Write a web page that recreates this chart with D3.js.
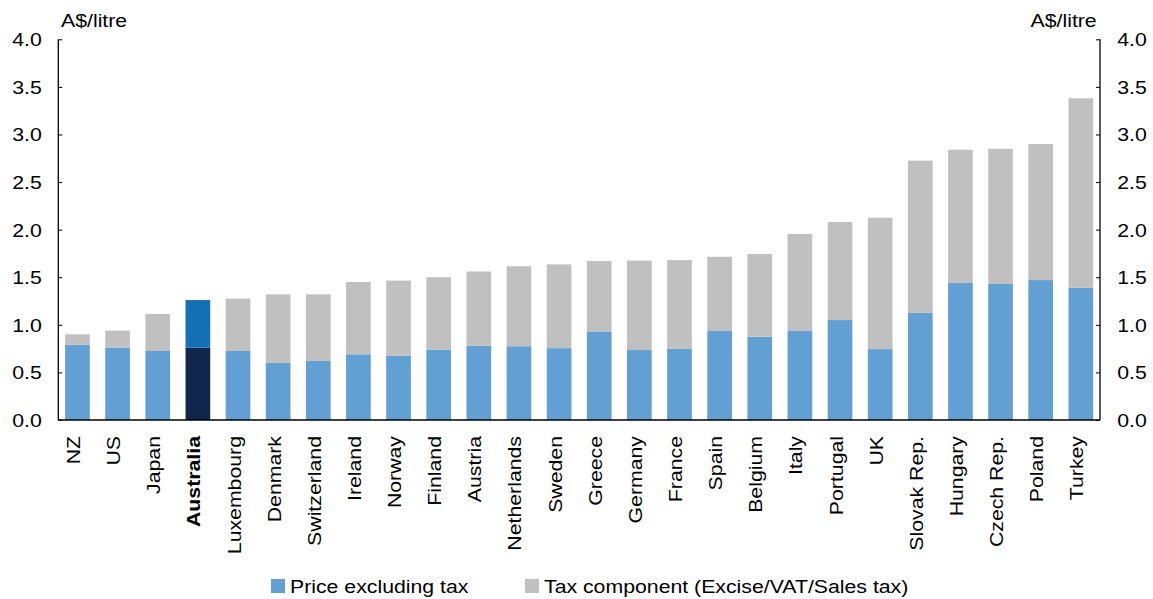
<!DOCTYPE html>
<html>
<head>
<meta charset="utf-8">
<script src="https://cdn.jsdelivr.net/npm/d3@7"></script>
<style>
  html, body { margin: 0; padding: 0; background: #fff; }
  svg { display: block; font-family: Arial, "Liberation Sans", sans-serif; }
</style>
</head>
<body>
<svg id="chart" width="1153" height="599"></svg>
<script>
// Petrol prices, A$/litre
const countries = ["NZ", "US", "Japan", "Australia", "Luxembourg", "Denmark", "Switzerland",
  "Ireland", "Norway", "Finland", "Austria", "Netherlands", "Sweden", "Greece", "Germany",
  "France", "Spain", "Belgium", "Italy", "Portugal", "UK", "Slovak Rep.", "Hungary",
  "Czech Rep.", "Poland", "Turkey"];
const priceExTax = [0.79, 0.76, 0.725, 0.76, 0.725, 0.60, 0.62, 0.69, 0.675, 0.74, 0.78,
  0.775, 0.755, 0.93, 0.735, 0.75, 0.935, 0.875, 0.935, 1.05, 0.745, 1.125, 1.44, 1.43, 1.47, 1.39];
const taxComponent = [0.11, 0.18, 0.39, 0.50, 0.55, 0.72, 0.70, 0.76, 0.79, 0.76, 0.78,
  0.84, 0.88, 0.74, 0.94, 0.93, 0.78, 0.87, 1.02, 1.03, 1.38, 1.60, 1.40, 1.42, 1.43, 1.99];
const yTicks = [0, 0.5, 1, 1.5, 2, 2.5, 3, 3.5, 4];
const highlight = "Australia";
const seriesNames = ["Price excluding tax", "Tax component (Excise/VAT/Sales tax)"];
const unitLabel = "A$/litre";

const colors = {
  price: "#629fd2",
  tax: "#c0c0c0",
  hiPrice: "#10264d",
  hiTax: "#1470b4"
};

// Text is set at 18.5px and widened a little horizontally
const FS = 18.5, SX = 1.15;

const svg = d3.select("#chart");
const plot = { left: 58.3, right: 1100, top: 39.3, bottom: 420 };

const x = d3.scaleBand().domain(countries).range([plot.left, plot.right])
  .paddingInner(0.385).paddingOuter(0.17);
const y = d3.scaleLinear().domain([0, 4]).range([plot.bottom, plot.top]);

const rows = countries.map((c, i) => ({ c, price: priceExTax[i], tax: taxComponent[i] }));
const stack = d3.stack().keys(["price", "tax"])(rows);

const g = svg.append("g");
stack.forEach(layer => {
  g.append("g").selectAll("rect").data(layer).join("rect")
    .attr("x", d => x(d.data.c))
    .attr("width", x.bandwidth())
    .attr("y", d => y(d[1]))
    .attr("height", d => y(d[0]) - y(d[1]))
    .attr("fill", d => {
      const hi = d.data.c === highlight;
      if (layer.key === "price") return hi ? colors.hiPrice : colors.price;
      return hi ? colors.hiTax : colors.tax;
    });
});

// Axes on both sides, ticks pointing inward
const fmt = d3.format(".1f");
const leftAxis = svg.append("g").attr("transform", `translate(${plot.left},0)`)
  .call(d3.axisRight(y).tickValues(yTicks).tickSize(4).tickFormat(fmt));
const rightAxis = svg.append("g").attr("transform", `translate(${plot.right},0)`)
  .call(d3.axisLeft(y).tickValues(yTicks).tickSize(4).tickFormat(fmt));

[leftAxis, rightAxis].forEach(a => {
  a.select(".domain").attr("stroke", "#000").attr("stroke-width", 1.3)
    .attr("d", `M0,${y(4)}V${y(0)}`);
  a.selectAll(".tick line").attr("stroke", "#000");
  a.selectAll(".tick text").attr("fill", "#000").style("font-size", FS + "px")
    .attr("dy", "0.35em").attr("transform", `scale(${SX},1)`);
});
leftAxis.selectAll(".tick text").attr("text-anchor", "end").attr("x", -16.6 / SX);
rightAxis.selectAll(".tick text").attr("text-anchor", "start").attr("x", 17.3 / SX);

// Baseline
svg.append("line").attr("x1", plot.left).attr("x2", plot.right)
  .attr("y1", y(0)).attr("y2", y(0))
  .attr("stroke", "#000").attr("stroke-width", 1.3);

// Units
svg.append("text").attr("transform", `translate(61,27.3) scale(${SX},1)`)
  .style("font-size", FS + "px").text(unitLabel);
svg.append("text").attr("transform", `translate(1096.7,27) scale(${SX},1)`)
  .attr("text-anchor", "end").style("font-size", FS + "px").text(unitLabel);

// Category labels, rotated
svg.append("g").selectAll("text").data(countries).join("text")
  .attr("transform", d => `translate(${x(d) + x.bandwidth() / 2 + 2.5},436) rotate(-90) scale(${SX},1)`)
  .attr("text-anchor", "end")
  .style("font-size", FS + "px")
  .style("font-weight", d => d === highlight ? "bold" : "normal")
  .text(d => d);

// Legend
const legend = [
  { name: seriesNames[0], color: colors.price, x: 271 },
  { name: seriesNames[1], color: colors.tax, x: 525 }
];
const lg = svg.append("g").selectAll("g").data(legend).join("g")
  .attr("transform", d => `translate(${d.x},579)`);
lg.append("rect").attr("width", 14).attr("height", 14).attr("fill", d => d.color);
lg.append("text").attr("transform", `translate(19,14.3) scale(${SX},1)`)
  .style("font-size", FS + "px").text(d => d.name);
</script>
</body>
</html>
